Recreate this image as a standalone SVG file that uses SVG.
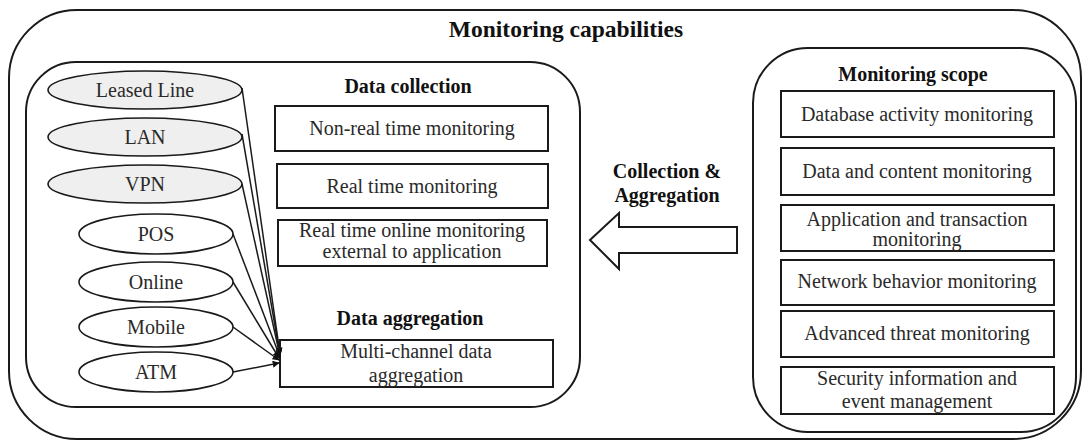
<svg xmlns="http://www.w3.org/2000/svg" width="1083" height="441" viewBox="0 0 1083 441">
  <style>
    .frame { fill: #ffffff; stroke: #1a1a1a; stroke-width: 2; }
    .box { fill: #ffffff; stroke: #1a1a1a; stroke-width: 2; }
    .ch { stroke: #1a1a1a; stroke-width: 1.6; }
    .grey { fill: #efefef; }
    .white { fill: #ffffff; }
    .t { font-family: "Liberation Serif", "Times New Roman", serif; font-size: 20px; fill: #2a2a2a; text-anchor: middle; }
    .h { font-family: "Liberation Serif", "Times New Roman", serif; font-size: 20px; font-weight: bold; fill: #111; text-anchor: middle; }
    .title { font-size: 23.5px; }
    .link { stroke: #1a1a1a; stroke-width: 1.5; fill: none; marker-end: url(#head); }
  </style>
  <defs>
    <marker id="head" viewBox="0 0 10 10" refX="9" refY="5" markerWidth="7" markerHeight="7" markerUnits="userSpaceOnUse" orient="auto">
      <path d="M0,0 L10,5 L0,10 z" fill="#111"/>
    </marker>
  </defs>

  <!-- outer frame -->
  <g id="monitoring-capabilities">
    <rect class="frame" x="9" y="10" width="1072" height="429" rx="68" ry="68"/>
    <text class="h title" x="566" y="37">Monitoring capabilities</text>
  </g>

  <!-- left panel: collection and aggregation -->
  <g id="left-panel">
    <rect class="frame" x="26" y="62" width="554" height="345" rx="50" ry="50"/>
    <text class="h" x="408" y="93">Data collection</text>
    <text class="h" x="410" y="325">Data aggregation</text>
  </g>

  <!-- channels -->
  <g id="ch-leased">
    <ellipse class="ch grey" cx="145" cy="90" rx="97" ry="19"/>
    <text class="t" x="145" y="97">Leased Line</text>
  </g>
  <g id="ch-lan">
    <ellipse class="ch grey" cx="145" cy="137" rx="97" ry="19"/>
    <text class="t" x="145" y="144">LAN</text>
  </g>
  <g id="ch-vpn">
    <ellipse class="ch grey" cx="145" cy="184" rx="97" ry="19"/>
    <text class="t" x="145" y="191">VPN</text>
  </g>
  <g id="ch-pos">
    <ellipse class="ch white" cx="156" cy="234" rx="77" ry="20"/>
    <text class="t" x="156" y="241">POS</text>
  </g>
  <g id="ch-online">
    <ellipse class="ch white" cx="156" cy="282" rx="77" ry="20"/>
    <text class="t" x="156" y="289">Online</text>
  </g>
  <g id="ch-mobile">
    <ellipse class="ch white" cx="156" cy="327" rx="77" ry="20"/>
    <text class="t" x="156" y="334">Mobile</text>
  </g>
  <g id="ch-atm">
    <ellipse class="ch white" cx="156" cy="372" rx="77" ry="20"/>
    <text class="t" x="156" y="379">ATM</text>
  </g>

  <!-- data collection modes -->
  <g id="dc-nonreal">
    <rect class="box" x="275" y="106" width="273" height="45"/>
    <text class="t" x="412" y="135">Non-real time monitoring</text>
  </g>
  <g id="dc-real">
    <rect class="box" x="277" y="164" width="271" height="44"/>
    <text class="t" x="412" y="193">Real time monitoring</text>
  </g>
  <g id="dc-online">
    <rect class="box" x="278" y="220" width="269" height="46"/>
    <text class="t" x="412" y="237">Real time online monitoring</text>
    <text class="t" x="412" y="258">external to application</text>
  </g>

  <!-- aggregation -->
  <g id="da-multichannel">
    <rect class="box" x="280" y="340" width="273" height="47"/>
    <text class="t" x="416" y="358">Multi-channel data</text>
    <text class="t" x="416" y="382">aggregation</text>
  </g>

  <!-- flow arrow -->
  <g id="collection-arrow">
    <path d="M590,240 L619,213 L619,227 L737,227 L737,253 L619,253 L619,269 Z" fill="#ffffff" stroke="#1a1a1a" stroke-width="2" stroke-linejoin="miter"/>
    <text class="h" x="667" y="178">Collection &amp;</text>
    <text class="h" x="667" y="202">Aggregation</text>
  </g>

  <!-- right panel: scope -->
  <g id="monitoring-scope">
    <rect class="frame" x="753" y="48" width="323" height="384" rx="55" ry="55"/>
    <text class="h" x="913" y="81">Monitoring scope</text>
  </g>
  <g id="ms-database">
    <rect class="box" x="781" y="91" width="273" height="46"/>
    <text class="t" x="917" y="121">Database activity  monitoring</text>
  </g>
  <g id="ms-content">
    <rect class="box" x="781" y="148" width="273" height="47"/>
    <text class="t" x="917" y="178">Data and content monitoring</text>
  </g>
  <g id="ms-application">
    <rect class="box" x="781" y="205" width="273" height="46"/>
    <text class="t" x="917" y="226">Application and transaction</text>
    <text class="t" x="917" y="246">monitoring</text>
  </g>
  <g id="ms-network">
    <rect class="box" x="781" y="260" width="273" height="45"/>
    <text class="t" x="917" y="288">Network behavior monitoring</text>
  </g>
  <g id="ms-threat">
    <rect class="box" x="781" y="311" width="273" height="46"/>
    <text class="t" x="917" y="340">Advanced threat monitoring</text>
  </g>
  <g id="ms-siem">
    <rect class="box" x="781" y="367" width="273" height="47"/>
    <text class="t" x="917" y="385">Security information and</text>
    <text class="t" x="917" y="408">event management</text>
  </g>

  <!-- channel connectors into aggregation -->
  <g id="connectors">
    <line class="link" x1="242" y1="88" x2="280" y2="354"/>
    <line class="link" x1="242" y1="134" x2="280" y2="355"/>
    <line class="link" x1="242" y1="184" x2="280" y2="356"/>
    <line class="link" x1="233" y1="234" x2="280" y2="357"/>
    <line class="link" x1="233" y1="282" x2="279" y2="358"/>
    <line class="link" x1="233" y1="327" x2="279" y2="360"/>
    <line class="link" x1="233" y1="372" x2="279" y2="363"/>
  </g>
</svg>
